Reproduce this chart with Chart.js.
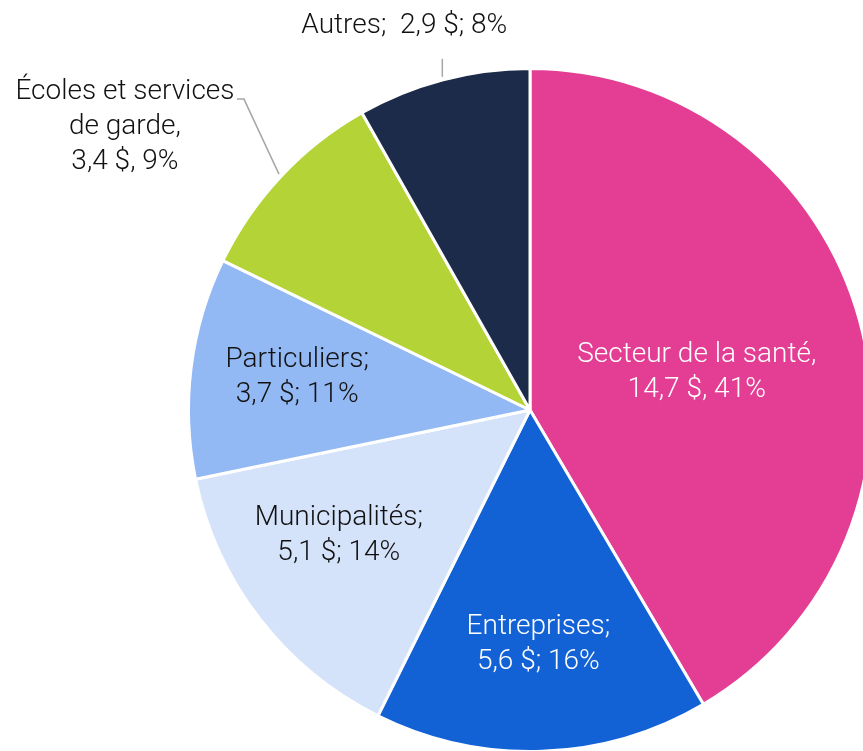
<!DOCTYPE html>
<html>
<head>
<meta charset="utf-8">
<script src="https://cdn.jsdelivr.net/npm/chart.js@4/dist/chart.umd.min.js"></script>
<style>
  html, body { margin: 0; padding: 0; background: #fff; overflow: hidden; }
  #wrap { position: absolute; left: 0; top: 0; width: 900px; height: 820px; }
</style>
</head>
<body>
<div id="wrap"><canvas id="pie"></canvas></div>
<script>
// data
const categories = ['Secteur de la santé', 'Entreprises', 'Municipalités', 'Particuliers', 'Écoles et services de garde', 'Autres'];
const amounts = [14.7, 5.6, 5.1, 3.7, 3.4, 2.9];
const labelLines = [
  ['Secteur de la santé,', '14,7 $, 41%'],
  ['Entreprises;', '5,6 $; 16%'],
  ['Municipalités;', '5,1 $; 14%'],
  ['Particuliers;', '3,7 $; 11%'],
  ['Écoles et services', 'de garde,', '3,4 $, 9%'],
  ['Autres;  2,9 $; 8%']
];
const sliceColors = ['#E33D94', '#1262D6', '#D4E3FA', '#93B9F5', '#B4D336', '#1C2B4A'];
const textColors = ['#ffffff', '#ffffff', '#111111', '#111111', '#111111', '#111111'];

// label placement: inside labels at a fraction of the radius, outside ones with a leader line
const labelPlace = [
  { frac: 0.5, dx: 2, dy: 7 },
  { frac: 0.69, dx: 0, dy: -1 },
  { frac: 0.67, dx: -10, dy: -14 },
  { frac: 0.69, dx: 1, dy: -3 },
  { outside: true, elbow: [-35, -75], end: [-42, -75], text: [-154, -47] },
  { outside: true, vertical: -18, text: [-38, -51] }
];

const FONT = '300 28px Roboto, "Liberation Sans", sans-serif';
const LINE_H = 35;

const labelPlugin = {
  id: 'sliceLabels',
  afterDraw(chart) {
    const ctx = chart.ctx;
    const arcs = chart.getDatasetMeta(0).data;
    ctx.save();
    ctx.font = FONT;
    ctx.textAlign = 'center';
    ctx.textBaseline = 'middle';
    arcs.forEach((arc, i) => {
      const { x, y, startAngle, endAngle, outerRadius } = arc.getProps(['x', 'y', 'startAngle', 'endAngle', 'outerRadius'], true);
      const mid = (startAngle + endAngle) / 2;
      const p = labelPlace[i];
      let cx, cy;
      if (!p.outside) {
        cx = x + Math.cos(mid) * outerRadius * p.frac + p.dx;
        cy = y + Math.sin(mid) * outerRadius * p.frac + p.dy;
      } else {
        const ex = x + Math.cos(mid) * (outerRadius + 3);
        const ey = y + Math.sin(mid) * (outerRadius + 3);
        ctx.strokeStyle = '#A6A6A6';
        ctx.lineWidth = 1.5;
        ctx.beginPath();
        ctx.moveTo(ex, ey);
        if (p.vertical) {
          ctx.lineTo(ex, ey + p.vertical);
        } else {
          ctx.lineTo(ex + p.elbow[0], ey + p.elbow[1]);
          ctx.lineTo(ex + p.end[0], ey + p.end[1]);
        }
        ctx.stroke();
        cx = ex + p.text[0];
        cy = ey + p.text[1];
      }
      ctx.fillStyle = textColors[i];
      const lines = labelLines[i];
      const top = cy - (lines.length - 1) * LINE_H / 2;
      lines.forEach((t, k) => ctx.fillText(t, cx, top + k * LINE_H));
    });
    ctx.restore();
  }
};

new Chart(document.getElementById('pie'), {
  type: 'pie',
  data: {
    labels: categories,
    datasets: [{
      data: amounts,
      backgroundColor: sliceColors,
      borderColor: '#ffffff',
      borderWidth: 3,
      hoverOffset: 0
    }]
  },
  options: {
    responsive: true,
    maintainAspectRatio: false,
    animation: false,
    layout: { padding: { left: 187, right: 27, top: 67, bottom: 67 } },
    plugins: {
      legend: { display: false },
      tooltip: { enabled: false }
    }
  },
  plugins: [labelPlugin]
});
</script>
</body>
</html>
